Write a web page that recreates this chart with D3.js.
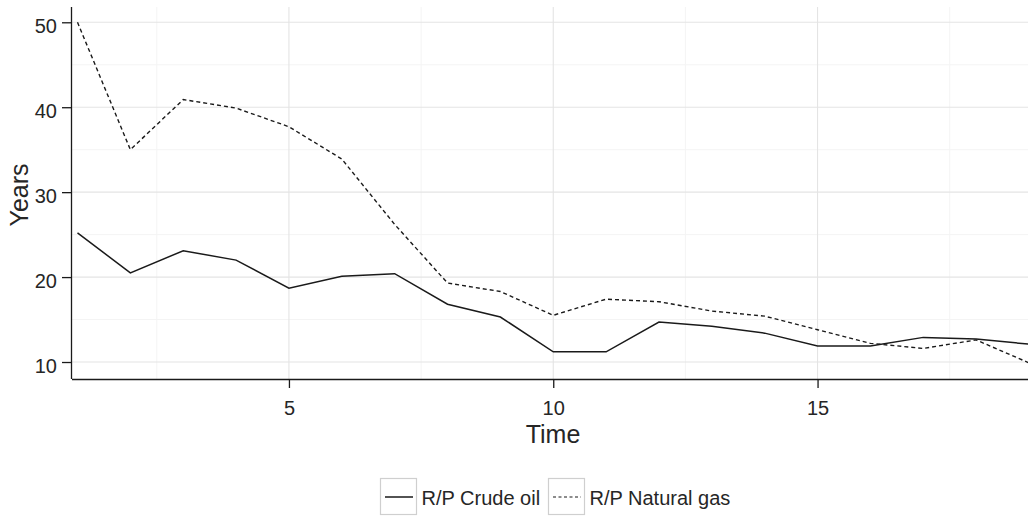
<!DOCTYPE html>
<html>
<head>
<meta charset="utf-8">
<script src="https://cdn.jsdelivr.net/npm/d3@7"></script>
<style>
  html, body { margin: 0; padding: 0; background: #fff; }
  svg { display: block; font-family: "Liberation Sans", Arial, Helvetica, sans-serif; }
</style>
</head>
<body>
<svg id="chart" width="1028" height="516"></svg>
<script>
// ---- data ----
const time = [1,2,3,4,5,6,7,8,9,10,11,12,13,14,15,16,17,18,19];
const crudeOil = [25.2,20.5,23.1,22.0,18.7,20.1,20.4,16.8,15.3,11.2,11.2,14.7,14.2,13.4,11.9,11.9,12.9,12.7,12.1];
const naturalGas = [50.0,35.0,40.9,39.9,37.7,33.9,26.2,19.3,18.3,15.5,17.4,17.1,16.0,15.4,13.8,12.2,11.6,12.6,9.9];
const seriesNames = ["R/P Crude oil", "R/P Natural gas"];
const xTicks = [5, 10, 15];
const xMinor = [2.5, 7.5, 12.5, 17.5];
const yTicks = [10, 20, 30, 40, 50];
const yMinor = [15, 25, 35, 45];
const xTitle = "Time";
const yTitle = "Years";

// ---- layout ----
const svg = d3.select("#chart");
const L = 72, T = 7, R = 1029, B = 379;
const x = d3.scaleLinear().domain([0.896, 19]).range([L, R]);
const y = d3.scaleLinear().domain([8.0, 51.8]).range([B, T]);
const textCol = "#262626";

// grid
const grid = svg.append("g");
grid.selectAll(".ymin").data(yMinor).join("line")
  .attr("x1", L).attr("x2", 1028).attr("y1", d => y(d)).attr("y2", d => y(d))
  .attr("stroke", "#f4f4f4").attr("stroke-width", 1);
grid.selectAll(".xmin").data(xMinor).join("line")
  .attr("y1", T).attr("y2", B).attr("x1", d => x(d)).attr("x2", d => x(d))
  .attr("stroke", "#f4f4f4").attr("stroke-width", 1);
grid.selectAll(".ymaj").data(yTicks).join("line")
  .attr("x1", L).attr("x2", 1028).attr("y1", d => y(d)).attr("y2", d => y(d))
  .attr("stroke", "#e4e4e4").attr("stroke-width", 1.1);
grid.selectAll(".xmaj").data(xTicks).join("line")
  .attr("y1", T).attr("y2", B).attr("x1", d => x(d)).attr("x2", d => x(d))
  .attr("stroke", "#e4e4e4").attr("stroke-width", 1.1);

// lines
const line = d3.line().x((d, i) => x(time[i])).y(d => y(d));
svg.append("path").datum(crudeOil).attr("d", line)
  .attr("fill", "none").attr("stroke", "#1a1a1a").attr("stroke-width", 1.5);
svg.append("path").datum(naturalGas).attr("d", line)
  .attr("fill", "none").attr("stroke", "#1a1a1a").attr("stroke-width", 1.4)
  .attr("stroke-dasharray", "4,3");

// axes
const xAxis = d3.axisBottom(x).tickValues(xTicks).tickSize(9).tickSizeOuter(0).tickFormat(d3.format("d"));
const gx = svg.append("g").attr("transform", `translate(0,${B})`).call(xAxis);
gx.select(".domain").attr("d", `M${L},0.5H1028`).attr("stroke", "#1a1a1a").attr("stroke-width", 1.3);
gx.selectAll(".tick line").attr("stroke", "#1a1a1a").attr("stroke-width", 1.3);
gx.selectAll(".tick text").attr("font-size", 20).attr("fill", textCol)
  .attr("font-family", "Liberation Sans, Arial, sans-serif").attr("dy", null).attr("y", 36);

const yAxis = d3.axisLeft(y).tickValues(yTicks).tickSize(10).tickSizeOuter(0).tickFormat(d3.format("d"));
const gy = svg.append("g").attr("transform", `translate(${L},0)`).call(yAxis);
gy.select(".domain").attr("d", `M-0.5,${T}V${B}`).attr("stroke", "#1a1a1a").attr("stroke-width", 1.3);
gy.selectAll(".tick line").attr("stroke", "#1a1a1a").attr("stroke-width", 1.3);
gy.selectAll(".tick text").attr("font-size", 20).attr("fill", textCol)
  .attr("font-family", "Liberation Sans, Arial, sans-serif").attr("dy", null).attr("y", 10.5).attr("x", -15);

// titles
svg.append("text").text(xTitle).attr("x", 553).attr("y", 443)
  .attr("text-anchor", "middle").attr("font-size", 25).attr("fill", textCol);
svg.append("text").text(yTitle)
  .attr("transform", `translate(28,${(T + B) / 2 + 2}) rotate(-90)`)
  .attr("text-anchor", "middle").attr("font-size", 25).attr("fill", textCol);

// legend
const legendX = [380, 548];
const leg = svg.append("g");
seriesNames.forEach((name, i) => {
  const g = leg.append("g").attr("transform", `translate(${legendX[i]},478)`);
  g.append("rect").attr("x", 0.5).attr("y", 0.5).attr("width", 36).attr("height", 36)
    .attr("fill", "#fff").attr("stroke", "#cfcfcf").attr("stroke-width", 1.2);
  g.append("line").attr("x1", 5).attr("x2", 33).attr("y1", 19).attr("y2", 19)
    .attr("stroke", "#1a1a1a").attr("stroke-width", i === 0 ? 1.5 : 1.2)
    .attr("stroke-dasharray", i === 0 ? null : "3,2.5");
  g.append("text").text(name).attr("x", 41.5).attr("y", 27)
    .attr("font-size", 20).attr("fill", textCol);
});
</script>
</body>
</html>
